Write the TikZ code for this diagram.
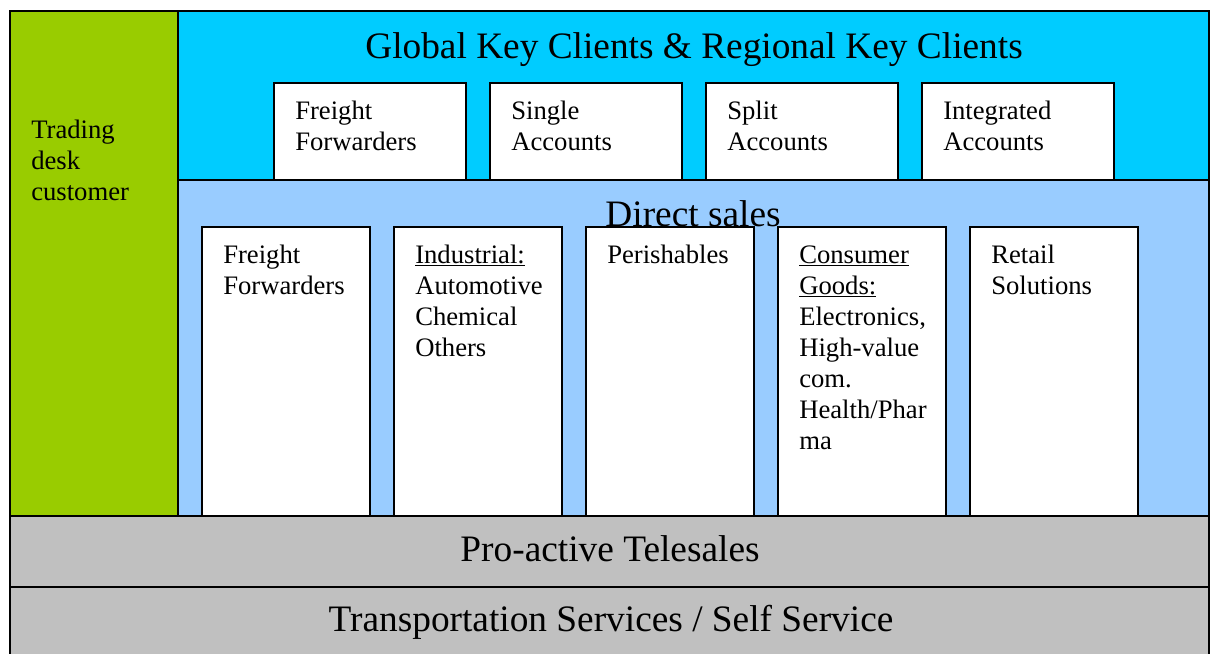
\documentclass[tikz,border=0pt]{standalone}
\usepackage{fontspec}
\setmainfont{Liberation Serif}
\usetikzlibrary{fit}
\definecolor{tgreen}{HTML}{99CC00}
\definecolor{tcyan}{HTML}{00CCFF}
\definecolor{tlblue}{HTML}{99CCFF}
\definecolor{tgray}{HTML}{C0C0C0}
\tikzset{
  panel/.style={draw=black, line width=1.5pt, inner sep=0pt},
  wbox/.style={panel, fill=white},
  bigtxt/.style={inner sep=0pt, font=\fontsize{28}{32}\selectfont},
  boxtxt/.style={inner sep=0pt, anchor=base west, align=left, font=\fontsize{20}{23.25}\selectfont},
}
\begin{document}
\begin{tikzpicture}[x=0.75pt, y=-0.75pt]
\useasboundingbox (0,0) rectangle (1212,653);
\clip (0,0) rectangle (1212,653);
% panels
\node[panel, fill=tgreen, fit={(10,11) (178,516)}] (green) {};
\node[panel, fill=tcyan, fit={(178,11) (1209,180)}] (cyan) {};
\node[panel, fill=tlblue, fit={(178,180) (1209,516)}] (direct) {};
\node[panel, fill=tgray, fit={(10,516) (1209,587)}] (tele) {};
\node[panel, fill=tgray, fit={(10,587) (1209,680)}] (trans) {};
% top boxes
\node[wbox, fit={(274,83) (466,180)}] (t1) {};
\node[wbox, fit={(490,83) (682,180)}] (t2) {};
\node[wbox, fit={(706,83) (898,180)}] (t3) {};
\node[wbox, fit={(922,83) (1114,180)}] (t4) {};
% lower boxes
\node[wbox, fit={(202,227) (370,516)}] (b1) {};
\node[wbox, fit={(394,227) (562,516)}] (b2) {};
\node[wbox, fit={(586,227) (754,516)}] (b3) {};
\node[wbox, fit={(778,227) (946,516)}] (b4) {};
\node[wbox, fit={(970,227) (1138,516)}] (b5) {};
% titles
\node[bigtxt, anchor=base] (gtitle) at (694,58) {Global Key Clients \& Regional Key Clients};
\node[bigtxt, anchor=base] (dtitle) at (693,226) {Direct sales};
\node[bigtxt, anchor=base] (ttitle) at (610,561) {Pro-active Telesales};
\node[bigtxt, anchor=base] (stitle) at (611,631) {Transportation Services / Self Service};
% texts (anchored at the baseline of their last line)
\node[boxtxt] (greentxt) at (31,200) {Trading\\desk\\customer};
\node[boxtxt] (t1txt) at (295,150) {Freight\\Forwarders};
\node[boxtxt] (t2txt) at (511,150) {Single\\Accounts};
\node[boxtxt] (t3txt) at (727,150) {Split\\Accounts};
\node[boxtxt] (t4txt) at (943,150) {Integrated\\Accounts};
\node[boxtxt] (b1txt) at (223,294) {Freight\\Forwarders};
\node[boxtxt] (b2txt) at (415,356) {\underline{Industrial:}\\Automotive\\Chemical\\Others};
\node[boxtxt] (b3txt) at (607,263) {Perishables};
\node[boxtxt] (b4txt) at (799,449) {\underline{Consumer}\\\underline{Goods:}\\Electronics,\\High-value\\com.\\Health/Phar\\ma};
\node[boxtxt] (b5txt) at (991,294) {Retail\\Solutions};
\end{tikzpicture}
\end{document}
